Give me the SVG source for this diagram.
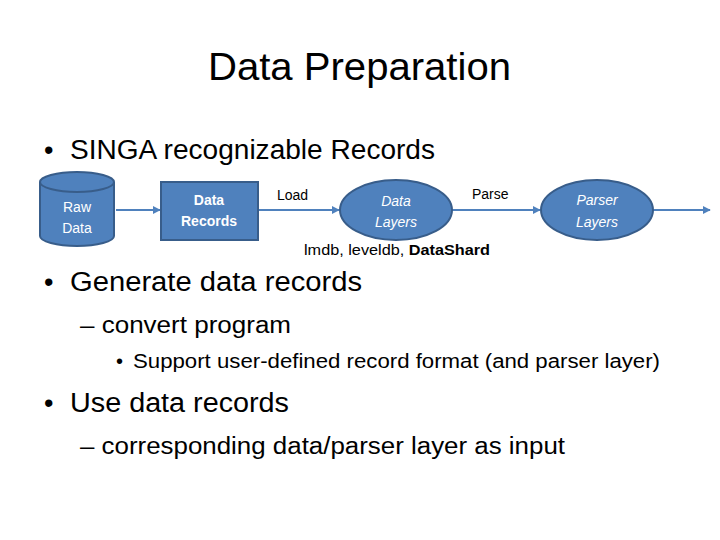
<svg xmlns="http://www.w3.org/2000/svg" width="720" height="540" viewBox="0 0 720 540">
<defs>
<style>
text{font-family:"Liberation Sans",Arial,sans-serif;fill:#000}
.n{fill:#4f81bd;stroke:#385d8a;stroke-width:2}
.w{fill:#fff;font-size:14px;text-anchor:middle}
.c{stroke:#4f81bd;stroke-width:2;fill:none;marker-end:url(#a)}
</style>
<marker id="a" viewBox="0 0 10 10" refX="9" refY="5" markerWidth="4" markerHeight="4" orient="auto"><path d="M0,0L10,5L0,10z" fill="#4f81bd"/></marker>
</defs>
<rect width="720" height="540" fill="#fff"/>
<text x="208" y="80" font-size="38" textLength="303" lengthAdjust="spacingAndGlyphs">Data Preparation</text>
<text x="44" y="159" font-size="27">•</text><text x="70" y="159" font-size="27" textLength="365" lengthAdjust="spacingAndGlyphs">SINGA recognizable Records</text>
<g id="connectors">
<line class="c" x1="116" y1="210" x2="160" y2="210"/>
<line class="c" x1="259" y1="210" x2="339" y2="210"/>
<line class="c" x1="452" y1="210" x2="540" y2="210"/>
<line class="c" x1="653" y1="210" x2="710" y2="210"/>
</g>
<g id="raw">
<path class="n" d="M40,182 V236 A37,10 0 0 0 114,236 V182 A37,10 0 0 0 40,182 A37,10 0 0 0 114,182"/>
<text class="w" x="77" y="212">Raw</text><text class="w" x="77" y="233">Data</text>
</g>
<g id="records">
<rect class="n" x="161" y="182" width="97" height="58"/>
<text class="w" x="209" y="205" font-weight="bold">Data</text><text class="w" x="209" y="226" font-weight="bold">Records</text>
</g>
<text x="277" y="200" font-size="14">Load</text>
<g id="datalayers">
<ellipse class="n" cx="396" cy="210" rx="56" ry="30"/>
<text class="w" x="396" y="206" font-style="italic">Data</text><text class="w" x="396" y="227" font-style="italic">Layers</text>
</g>
<text x="472" y="199" font-size="14">Parse</text>
<g id="parserlayers">
<ellipse class="n" cx="597" cy="210" rx="56" ry="30"/>
<text class="w" x="597" y="205" font-style="italic">Parser</text><text class="w" x="597" y="227" font-style="italic">Layers</text>
</g>
<text x="304" y="255" font-size="14" textLength="186" lengthAdjust="spacingAndGlyphs">lmdb, leveldb, <tspan font-weight="bold">DataShard</tspan></text>
<text x="44" y="291" font-size="27">•</text><text x="70" y="291" font-size="27" textLength="292" lengthAdjust="spacingAndGlyphs">Generate data records</text>
<text x="80" y="333" font-size="23" textLength="211" lengthAdjust="spacingAndGlyphs">– convert program</text>
<text x="116" y="368" font-size="20">•</text><text x="133" y="368" font-size="20" textLength="527" lengthAdjust="spacingAndGlyphs">Support user-defined record format (and parser layer)</text>
<text x="44" y="412" font-size="27">•</text><text x="70" y="412" font-size="27" textLength="219" lengthAdjust="spacingAndGlyphs">Use data records</text>
<text x="80" y="454" font-size="23" textLength="485" lengthAdjust="spacingAndGlyphs">– corresponding data/parser layer as input</text>
</svg>
